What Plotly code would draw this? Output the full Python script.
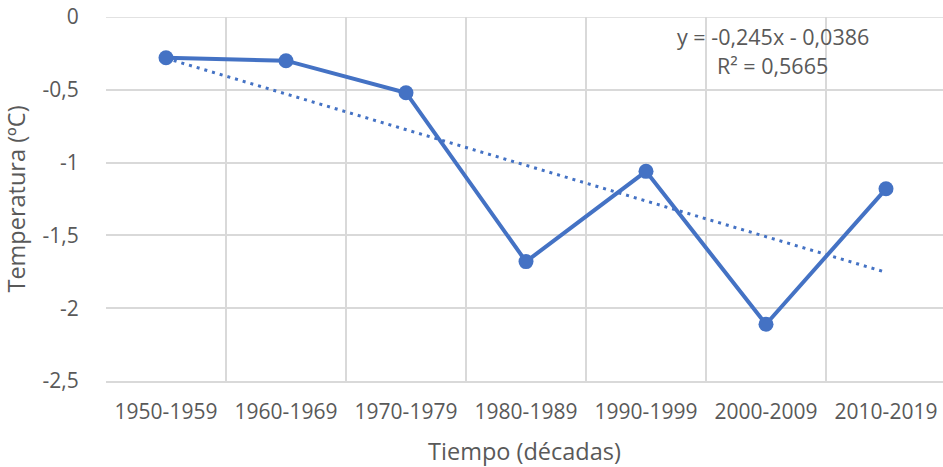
import numpy as np
import plotly.graph_objects as go

categories = ["1950-1959", "1960-1969", "1970-1979", "1980-1989", "1990-1999", "2000-2009", "2010-2019"]
temperatura = [-0.28, -0.30, -0.52, -1.68, -1.06, -2.11, -1.18]
y_ticks = [0, -0.5, -1, -1.5, -2, -2.5]
y_tick_labels = ["0", "-0,5", "-1", "-1,5", "-2", "-2,5"]
equation_line = "y = -0,245x - 0,0386"
r2_line = "R² = 0,5665"

BLUE = "#4472C4"
GRID = "#d9d9d9"
TXT = "#595959"
FONT = "Open Sans"

# Linear trendline (as Excel): x = 1..n
xn = np.arange(1, len(temperatura) + 1)
slope, intercept = np.polyfit(xn, temperatura, 1)
trend = slope * xn + intercept

fig = go.Figure()
fig.add_trace(go.Scatter(
    x=categories, y=trend, mode="lines",
    line=dict(color=BLUE, width=3, dash="3px,5px"),
    showlegend=False, hoverinfo="skip"))
fig.add_trace(go.Scatter(
    x=categories, y=temperatura, mode="lines+markers",
    line=dict(color=BLUE, width=4),
    marker=dict(color=BLUE, size=15),
    showlegend=False))

fig.add_annotation(
    x=5.058, y=-0.135, xref="x", yref="y", text=equation_line,
    showarrow=False, xanchor="center", yanchor="middle",
    font=dict(family=FONT, size=21.5, color=TXT))
fig.add_annotation(
    x=5.058, y=-0.335, xref="x", yref="y", text=r2_line,
    showarrow=False, xanchor="center", yanchor="middle",
    font=dict(family=FONT, size=21.5, color=TXT))

# top gridline (at y = 0, the upper edge of the plot area)
fig.add_shape(type="line", xref="paper", yref="y", x0=0, x1=1, y0=max(y_ticks), y1=max(y_ticks),
              line=dict(color=GRID, width=1.5), layer="below")

fig.update_layout(
    width=943, height=467,
    margin=dict(l=106, r=0, t=17, b=86),
    paper_bgcolor="white", plot_bgcolor="white",
    font=dict(family=FONT, color=TXT, size=21),
    xaxis=dict(
        type="category", range=[-0.5, 6.475], automargin=False,
        tickson="boundaries", showgrid=True, gridcolor=GRID, gridwidth=1.5,
        showline=True, linecolor=GRID, linewidth=1.5,
        ticks="", ticklabelstandoff=11,
        ticklabeloverflow="allow",
        tickfont=dict(family=FONT, size=21, color=TXT),
        title=dict(text="Tiempo (décadas)", font=dict(family=FONT, size=23.5, color=TXT), standoff=25),
        zeroline=False, fixedrange=True),
    yaxis=dict(
        range=[-2.5, 0], tickvals=y_ticks, ticktext=y_tick_labels, automargin=False,
        showgrid=True, gridcolor=GRID, gridwidth=1.5,
        showline=False, zeroline=False,
        ticks="outside", ticklen=22, tickcolor="rgba(0,0,0,0)",
        ticklabeloverflow="allow",
        tickfont=dict(family=FONT, size=21, color=TXT),
        title=dict(text="Temperatura (ºC)", font=dict(family=FONT, size=23.5, color=TXT), standoff=10),
        fixedrange=True),
)

fig.write_html("out.html", config={"displayModeBar": False},
               post_script="document.body.style.margin='0';")
